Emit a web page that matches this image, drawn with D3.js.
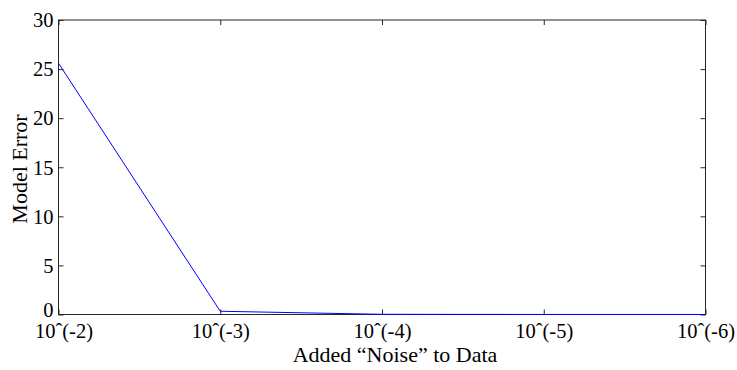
<!DOCTYPE html>
<html>
<head>
<meta charset="utf-8">
<script src="https://cdn.jsdelivr.net/npm/d3@7"></script>
<style>
  body { margin: 0; background: #fff; }
  text { font-family: "Liberation Serif", "Times New Roman", serif; fill: #000; }
</style>
</head>
<body>
<svg id="chart" width="737" height="370"></svg>
<script>
// data
const noiseLabels = ["10ˆ(-2)", "10ˆ(-3)", "10ˆ(-4)", "10ˆ(-5)", "10ˆ(-6)"];
const modelError = [25.6, 0.33, 0.02, 0.005, 0.002];
const yTicks = [0, 5, 10, 15, 20, 25, 30];

const svg = d3.select('#chart');
const plotLeft = 58.5, plotRight = 705.5, plotTop = 20, plotBottom = 314.5;

const x = d3.scaleLinear().domain([0, noiseLabels.length - 1]).range([plotLeft, plotRight]);
const y = d3.scaleLinear().domain([0, 30]).range([plotBottom, plotTop]);

const axisColor = '#262626';

// x ticks (bottom + mirrored top)
const xAxis = d3.axisBottom(x).tickValues(d3.range(noiseLabels.length))
  .tickFormat(i => noiseLabels[i]).tickSizeInner(-5).tickSizeOuter(0);
const gx = svg.append('g').attr('transform', `translate(0,${plotBottom})`).call(xAxis);
gx.select('.domain').remove();
gx.selectAll('line').attr('stroke', axisColor);
gx.selectAll('text')
  .attr('font-size', 20.5).attr('fill', '#000')
  .attr('y', 23.5).attr('dy', 0)
  .attr('x', (d, i) => i === 0 ? 5 : 0);  // first label sits a bit right, like the original

const gxt = svg.append('g').attr('transform', `translate(0,${plotTop})`)
  .call(d3.axisTop(x).tickValues(d3.range(noiseLabels.length)).tickSizeInner(-5).tickSizeOuter(0).tickFormat(''));
gxt.select('.domain').remove();
gxt.selectAll('line').attr('stroke', axisColor);

// y ticks (left + mirrored right)
const gy = svg.append('g').attr('transform', `translate(${plotLeft},0)`)
  .call(d3.axisLeft(y).tickValues(yTicks).tickSizeInner(-5).tickSizeOuter(0));
gy.select('.domain').remove();
gy.selectAll('line').attr('stroke', axisColor);
gy.selectAll('text').attr('font-size', 20.5).attr('fill', '#000').attr('x', -5).attr('dy', '0.33em');
gy.selectAll('.tick').filter(d => d === 0).select('text').attr('dy', '0.08em');

const gyr = svg.append('g').attr('transform', `translate(${plotRight},0)`)
  .call(d3.axisRight(y).tickValues(yTicks).tickSizeInner(-5).tickSizeOuter(0).tickFormat(''));
gyr.select('.domain').remove();
gyr.selectAll('line').attr('stroke', axisColor);

// box
svg.append('rect')
  .attr('x', plotLeft).attr('y', plotTop)
  .attr('width', plotRight - plotLeft).attr('height', plotBottom - plotTop)
  .attr('fill', 'none').attr('stroke', axisColor).attr('stroke-width', 1);

// the series
const line = d3.line().x((d, i) => x(i)).y(d => y(d));
svg.append('path')
  .datum(modelError)
  .attr('d', line)
  .attr('fill', 'none')
  .attr('stroke', '#0000ff')
  .attr('stroke-width', 1);

// axis titles
svg.append('text')
  .attr('x', 395).attr('y', 362)
  .attr('text-anchor', 'middle')
  .attr('font-size', 22)
  .text('Added “Noise” to Data');

svg.append('text')
  .attr('transform', 'translate(27,169) rotate(-90)')
  .attr('text-anchor', 'middle')
  .attr('font-size', 22)
  .text('Model Error');
</script>
</body>
</html>
